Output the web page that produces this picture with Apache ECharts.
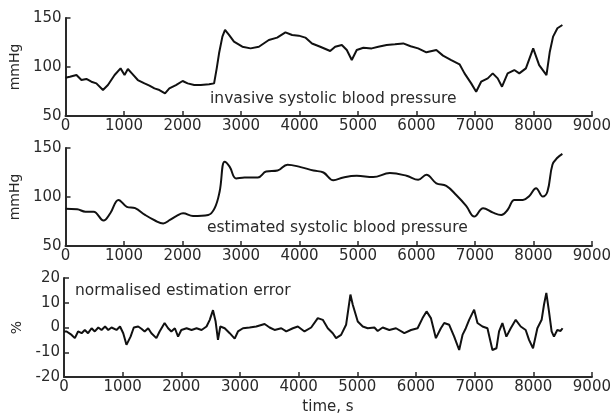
<!DOCTYPE html>
<html>
<head>
<meta charset="utf-8">
<script src="https://cdn.jsdelivr.net/npm/echarts@6/dist/echarts.min.js"></script>
<style>
  html, body { margin: 0; padding: 0; background: #fff; }
  #chart { width: 614px; height: 416px; }
</style>
</head>
<body>
<div id="chart"></div>
<script>
// invasive systolic blood pressure (mmHg)
const invT = [0, 74, 187, 272, 357, 442, 527, 640, 725, 839, 941, 1009, 1066, 1134, 1236, 1350, 1435, 1520, 1605, 1701,
  1775, 1888, 2002, 2087, 2200, 2313, 2455, 2540, 2585, 2625, 2682, 2727, 2795, 2880, 3023, 3164, 3306, 3476, 3618, 3760,
  3874, 3987, 4100, 4214, 4355, 4525, 4610, 4724, 4809, 4894, 4979, 5093, 5235, 5348, 5490, 5632, 5774, 5900, 6028, 6170,
  6340, 6454, 6595, 6737, 6822, 6936, 7021, 7106, 7219, 7304, 7389, 7463, 7559, 7673, 7758, 7871, 7996, 8098, 8223, 8280,
  8336, 8410, 8495];
const invV = [89, 90, 91.8, 86.7, 87.8, 85, 83.3, 76.5, 81.6, 91.8, 98.6, 91.8, 98, 93.5, 86.7, 83.3, 81, 78.2, 76.5, 73.1,
  78.2, 81.6, 85.7, 83.3, 81.6, 81.6, 82.3, 83.3, 98.6, 114, 131, 137.8, 132.7, 125.9, 120.7, 119, 120.7, 127.6, 130, 135.4,
  132.7, 132, 130, 124, 120.7, 116.3, 120.7, 122.4, 117.3, 107.1, 117.3, 119.7, 119, 120.7, 122.4, 123.1, 124.1, 121.2, 119, 115,
  117.3, 111.6, 107.1, 102.7, 93.5, 83.3, 74.8, 85, 88.4, 93.5, 88.4, 79.9, 93.5, 96.9, 93.5, 98.6, 119, 102, 91.8, 115.6,
  131, 139.5, 142.9];

// estimated systolic blood pressure (mmHg)
const estT = [0, 200, 340, 480, 650, 765, 906, 1048, 1190, 1360, 1530, 1670, 1785, 1900, 2010, 2180, 2440, 2550, 2635, 2720,
  2805, 2918, 3060, 3290, 3430, 3625, 3795, 4020, 4240, 4410, 4580, 4750, 4980, 5260, 5545, 5830, 6030, 6170, 6340, 6510,
  6680, 6850, 6990, 7140, 7310, 7450, 7560, 7675, 7820, 7930, 8045, 8160, 8240, 8325, 8410, 8495];
const estV = [88, 87.5, 85, 85, 76, 83.4, 97, 90, 88.6, 81.7, 76, 73, 76.6, 80.7, 83.4, 80.7, 81.7, 88.6, 105.6, 136,
  131, 119, 120, 120, 126, 127, 133, 130.5, 127, 125, 117, 120, 121.7, 120.3, 124.4, 121.7, 117.6, 122.7, 114, 111.4,
  102, 91, 80, 88.6, 84, 81.7, 87, 97, 97, 101, 109, 100.5, 105.6, 133, 140, 144];

// normalised estimation error (%)
const errT = [0, 45, 130, 185, 240, 300, 355, 410, 470, 525, 585, 640, 700, 755, 810, 895, 955, 1010, 1065, 1095,
  1135, 1190, 1265, 1320, 1375, 1435, 1490, 1575, 1630, 1715, 1775, 1830, 1890, 1945, 2000, 2090, 2175, 2260, 2345, 2430,
  2485, 2540, 2585, 2625, 2665, 2740, 2825, 2910, 2966, 3051, 3164, 3278, 3420, 3505, 3590, 3704, 3789, 3902, 3987, 4100,
  4214, 4327, 4412, 4497, 4582, 4639, 4724, 4809, 4883, 4923, 5008, 5093, 5178, 5291, 5348, 5433, 5546, 5660, 5802, 5916,
  6028, 6113, 6181, 6255, 6340, 6425, 6482, 6567, 6652, 6737, 6794, 6850, 6907, 6992, 7049, 7134, 7219, 7304, 7372, 7417,
  7474, 7542, 7616, 7701, 7786, 7871, 7928, 7996, 8070, 8143, 8183, 8223, 8268, 8313, 8353, 8410, 8466, 8500];
const errV = [-1.6, -1.6, -3, -4.3, -1.6, -2.3, -1, -2.3, -0.3, -1.6, 0, -1, 0.4, -1, 0, -1, 0.4, -2.3, -7, -7.7,
  -3.7, 0, 0.4, -0.5, -1.6, -0.3, -2.3, -4.3, -1.6, 1.8, -0.3, -1.6, -0.3, -3.7, -1, -0.3, -1, -0.3, -1, 0.4,
  3.1, 7, 2.4, -5, 0.4, -0.3, -2.3, -4.5, -1.6, -0.3, 0, 0.4, 1.4, 0, -1, -0.3, -1.6, -0.3, 0.4, -1.6,
  0, 3.8, 3.1, -0.3, -2.3, -4.3, -3, 1.1, 13.3, 9.2, 2.4, 0.4, -0.3, 0, -1.4, 0, -1, -0.3, -2.3, -1,
  -0.3, 3.8, 6.5, 3.8, -4.3, -0.3, 1.8, 1.1, -3.7, -9.1, -3, -0.3, 3.1, 7.2, 1.8, 0.4, -0.3, -9.1, -8.4, -1.6,
  1.8, -3.7, -0.3, 3.1, 0.4, -1, -5, -8.4, -0.3, 3.1, 9.2, 14, 6.5, -1.6, -3.7, -1, -1.4, -0.3];

const pairs = (t, v) => t.map((x, i) => [x, v[i]]);

const font = 'DejaVu Sans';
const ink = '#2a2a2a';

const xAxisBase = function(idx, name) {
  return {
    type: 'value',
    gridIndex: idx,
    min: 0,
    max: 9000,
    interval: 1000,
    name: name || '',
    nameLocation: 'middle',
    nameGap: 23,
    nameTextStyle: { fontFamily: font, fontSize: 15, color: ink },
    axisLine: { show: true, onZero: false, lineStyle: { color: ink, width: 2 } },
    axisTick: { show: true, inside: true, length: 5, lineStyle: { color: ink, width: 1.5 } },
    axisLabel: { fontFamily: font, fontSize: 15, color: ink, margin: 3, formatter: v => String(v) },
    splitLine: { show: false }
  };
};

const yAxisBase = function(idx, min, max, interval, name) {
  return {
    type: 'value',
    gridIndex: idx,
    min: min,
    max: max,
    interval: interval,
    name: name,
    nameLocation: 'middle',
    nameGap: 35,
    nameRotate: 90,
    nameTextStyle: { fontFamily: font, fontSize: 14, color: ink },
    axisLine: { show: true, onZero: false, lineStyle: { color: ink, width: 2 } },
    axisTick: { show: true, inside: true, length: 5, lineStyle: { color: ink, width: 1.5 } },
    axisLabel: { fontFamily: font, fontSize: 15, color: ink, margin: 4, formatter: v => String(v) },
    splitLine: { show: false }
  };
};

const lineSeries = function(idx, data, smooth) {
  return {
    type: 'line',
    xAxisIndex: idx,
    yAxisIndex: idx,
    data: data,
    showSymbol: false,
    smooth: smooth,
    lineStyle: { color: '#111', width: 2 },
    silent: true
  };
};

const myChart = echarts.init(document.querySelector('#chart'));

const option = {
  backgroundColor: '#fff',
  animation: false,
  grid: [
    { left: 64, top: 18, width: 529, height: 98 },
    { left: 64, top: 148, width: 529, height: 98 },
    { left: 64, top: 278, width: 529, height: 99 }
  ],
  xAxis: [xAxisBase(0), xAxisBase(1), xAxisBase(2, 'time, s')],
  yAxis: [
    yAxisBase(0, 50, 150, 50, 'mmHg'),
    yAxisBase(1, 50, 150, 50, 'mmHg'),
    yAxisBase(2, -20, 20, 10, '%')
  ],
  graphic: [
    { type: 'text', left: 210, top: 91, style: { text: 'invasive systolic blood pressure', fontFamily: font, fontSize: 15.5, fill: ink } },
    { type: 'text', left: 207, top: 220, style: { text: 'estimated systolic blood pressure', fontFamily: font, fontSize: 15.5, fill: ink } },
    { type: 'text', left: 75, top: 283, style: { text: 'normalised estimation error', fontFamily: font, fontSize: 15.5, fill: ink } }
  ],
  series: [
    lineSeries(0, pairs(invT, invV), false),
    lineSeries(1, pairs(estT, estV), 0.4),
    lineSeries(2, pairs(errT, errV), false)
  ]
};

myChart.setOption(option);

window.addEventListener('resize', function() {
  myChart.resize();
});
</script>
</body>
</html>
